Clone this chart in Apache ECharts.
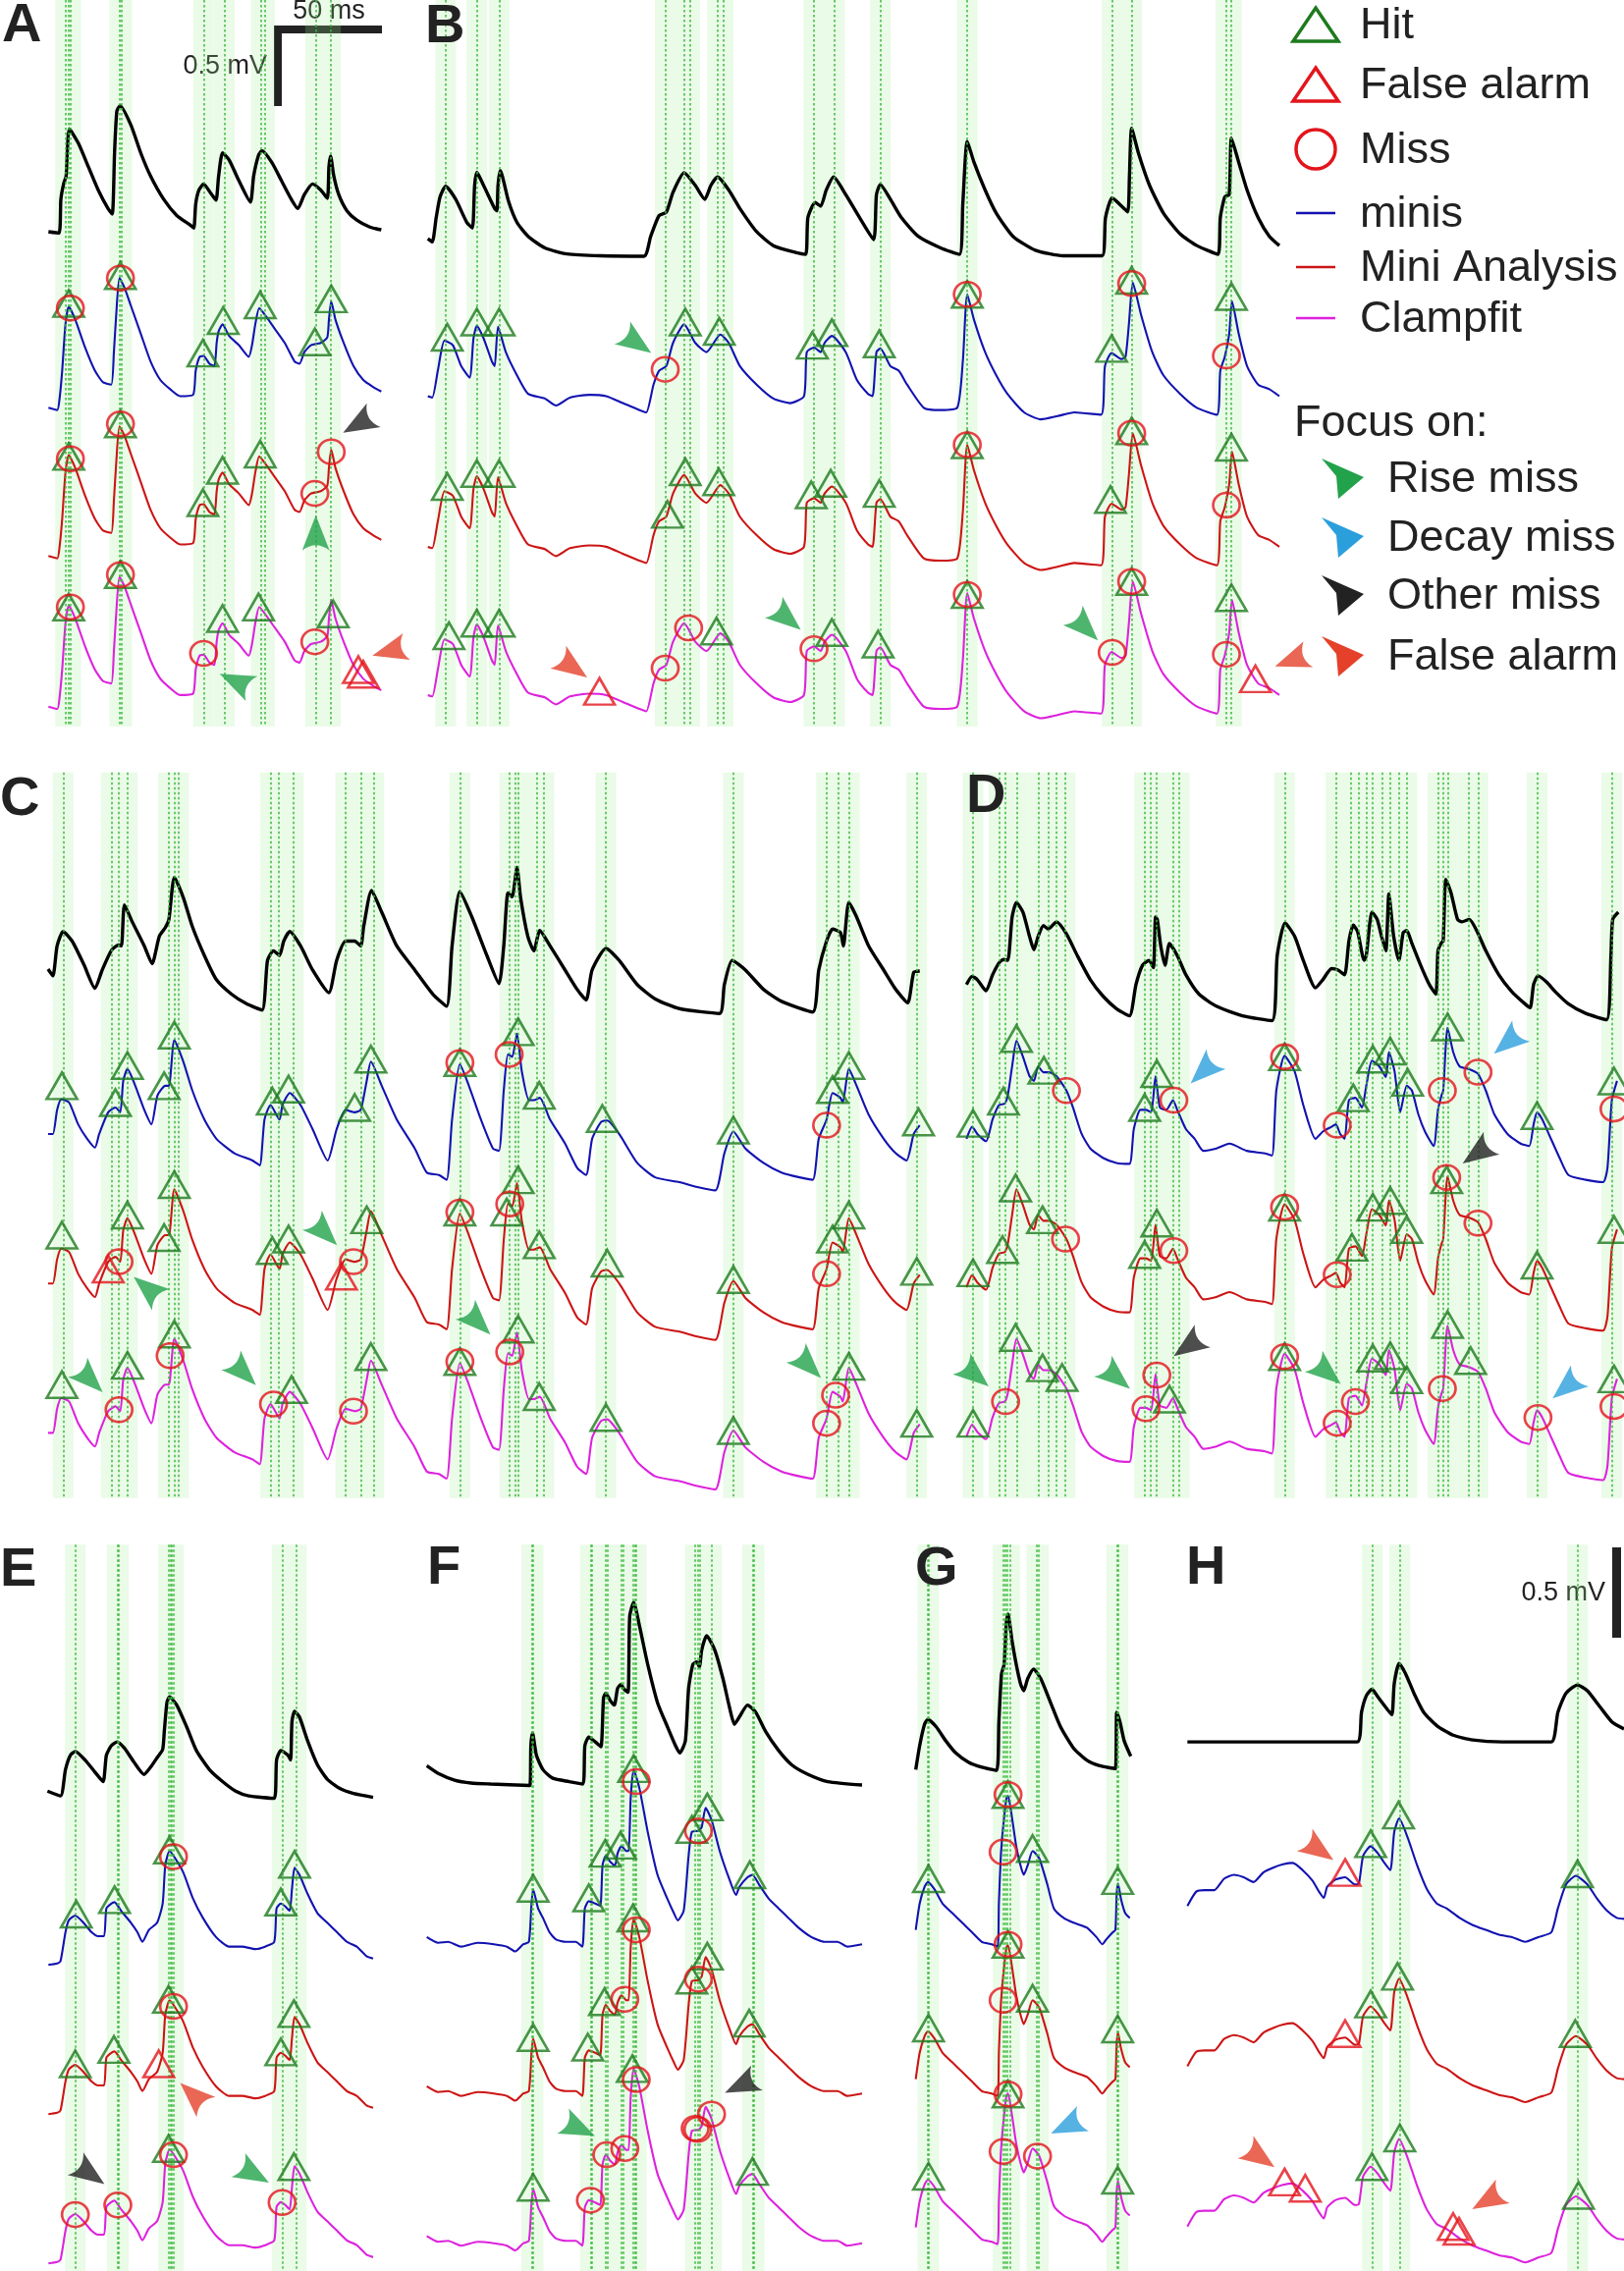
<!DOCTYPE html>
<html><head><meta charset="utf-8">
<script src="https://cdn.jsdelivr.net/npm/echarts@6/dist/echarts.min.js"></script>
<style>html,body{margin:0;padding:0;background:#fff}#c{width:1654px;height:2313px}</style>
</head><body><div id="c"></div>
<script>
// ===== DATA (time units / amplitude units as read per panel; amplitude axis points downward) =====
const A_events=[200,208,216,366,372,622,686,798,808,964,1010];
const A_black=[[148,500],[180,503],[186,430],[195,395],[202,380],[212,278],[240,310],[270,360],[300,410],[330,450],[343,462],[350,330],[357,240],[367,228],[400,270],[430,330],[460,380],[500,430],[540,465],[580,485],[592,492],[598,440],[608,410],[622,397],[645,418],[660,432],[668,380],[680,330],[700,345],[730,390],[765,436],[775,380],[790,335],[800,325],[830,350],[860,390],[890,430],[910,450],[930,420],[955,397],[980,410],[1000,428],[1005,360],[1010,337],[1020,380],[1035,420],[1060,455],[1090,475],[1130,490],[1165,496]];
const A_trace=[[148,880],[175,885],[182,860],[190,800],[200,700],[210,662],[230,690],[260,750],[290,800],[315,825],[340,830],[348,760],[355,680],[365,600],[380,620],[400,660],[430,720],[460,780],[490,820],[520,840],[550,855],[590,852],[598,800],[610,770],[622,768],[640,785],[655,790],[662,740],[668,715],[680,700],[700,725],[730,745],[760,770],[770,745],[780,700],[792,665],[810,680],[840,710],[870,740],[900,780],[915,785],[930,760],[950,745],[980,740],[1000,728],[1005,690],[1012,650],[1025,690],[1050,740],[1080,790],[1110,820],[1140,835],[1165,845]];
const A_hit=[[210,655],[368,595],[620,762],[682,692],[795,658],[962,738],[1012,645],[210,985],[368,915],[620,1085],[680,1015],[795,980],[210,1310],[368,1240],[680,1335],[790,1310],[1018,1325]];
const A_fa=[[1095,1445],[1110,1455]];
const A_miss=[[215,665],[368,600],[215,990],[368,915],[962,1065],[1012,975],[215,1310],[368,1240],[622,1410],[962,1385]];
const A_arrows=[[1095,915,'other',-150],[965,1150,'rise',90],[720,1470,'rise',155],[1190,1405,'fa',-165]];

const B_events=[72,128,168,466,500,510,560,570,733,770,852,1008,1268,1303,1472,1482];
const B_black=[[40,515],[48,522],[55,470],[62,425],[72,402],[90,430],[110,480],[120,492],[124,400],[128,372],[140,400],[160,450],[164,455],[166,400],[170,368],[185,435],[200,480],[220,510],[250,535],[290,548],[350,552],[428,553],[440,510],[455,465],[468,458],[480,415],[500,373],[520,400],[537,430],[548,400],[560,382],[580,410],[600,450],[630,500],[660,530],[700,545],[718,549],[722,470],[735,437],[745,445],[755,410],[768,382],[790,420],[815,470],[840,517],[845,420],[852,398],[870,430],[890,470],[920,510],[960,535],[994,549],[1000,440],[1008,305],[1020,350],[1040,410],[1060,460],[1090,510],[1130,540],[1180,552],[1250,552],[1256,470],[1268,427],[1285,445],[1296,457],[1299,380],[1303,277],[1315,330],[1335,400],[1360,460],[1390,505],[1420,530],[1458,549],[1462,470],[1470,425],[1478,420],[1482,298],[1495,350],[1510,410],[1530,470],[1550,510],[1568,530]];
const B_trace=[[40,855],[48,858],[58,800],[70,735],[85,745],[100,790],[115,815],[122,730],[128,703],[140,730],[155,780],[160,790],[166,705],[180,760],[200,810],[220,850],[250,860],[270,875],[295,858],[330,852],[360,855],[390,870],[420,885],[432,890],[445,830],[455,800],[468,790],[480,740],[500,700],[520,740],[540,760],[565,722],[580,740],[600,790],[630,830],[660,860],[690,870],[715,855],[720,760],[733,750],[745,760],[752,740],[765,725],[790,760],[810,820],[830,850],[838,855],[845,760],[852,752],[870,790],[885,800],[900,830],[930,880],[960,885],[990,880],[1000,780],[1008,635],[1020,690],[1040,760],[1060,810],[1080,850],[1110,890],[1140,905],[1170,898],[1200,890],[1248,895],[1255,790],[1267,762],[1285,775],[1292,770],[1298,700],[1305,610],[1320,680],[1340,760],[1360,810],[1390,850],[1420,880],[1456,895],[1462,800],[1470,770],[1478,720],[1483,650],[1495,720],[1510,790],[1530,830],[1550,840],[1568,855]];
const B_hit=[[75,728],[128,695],[168,695],[502,695],[563,715],[730,745],[765,718],[850,742],[1008,635],[1303,605],[1267,752],[1482,640],[75,1050],[128,1022],[168,1022],[470,1110],[502,1018],[562,1040],[728,1068],[763,1043],[850,1065],[1008,960],[1303,930],[1265,1078],[1482,965],[78,1372],[128,1345],[168,1345],[558,1362],[765,1365],[848,1390],[1008,1283],[1303,1255],[1482,1290]];
const B_fa=[[348,1492],[1525,1465]];
const B_miss=[[466,797],[1008,635],[1303,612],[1473,768],[1008,960],[1303,935],[1473,1090],[466,1442],[508,1355],[733,1400],[1008,1283],[1303,1255],[1268,1408],[1473,1412]];
const B_arrows=[[415,740,'rise',-35],[300,1440,'fa',-35],[685,1335,'rise',-40],[1220,1355,'rise',-45],[1590,1425,'fa',-160]];

const C_events=[105,185,197,212,280,290,297,450,463,488,575,600,622,765,848,857,862,893,905,1008,1220,1375,1395,1413,1525];
const C_black=[[80,448],[88,462],[95,400],[105,370],[120,390],[140,440],[158,488],[170,450],[185,410],[197,398],[202,400],[207,315],[220,350],[240,400],[253,437],[265,380],[275,362],[281,345],[290,258],[305,300],[320,360],[340,420],[360,470],[385,500],[410,520],[436,533],[445,430],[455,410],[465,420],[472,390],[482,370],[500,400],[520,450],[547,497],[560,430],[575,390],[590,390],[600,400],[605,360],[618,285],[635,330],[660,400],[690,450],[720,500],[743,525],[752,400],[765,287],[785,340],[810,420],[830,478],[838,400],[845,290],[852,298],[860,237],[866,300],[878,380],[888,410],[898,368],[915,400],[940,450],[960,490],[975,512],[985,450],[1008,405],[1030,430],[1060,480],[1090,510],[1130,530],[1197,540],[1205,480],[1218,430],[1240,450],[1270,490],[1300,515],[1352,537],[1362,450],[1375,390],[1385,365],[1398,372],[1403,400],[1412,310],[1425,340],[1445,400],[1470,450],[1490,490],[1510,518],[1520,455],[1530,452]];
const C_trace=[[80,790],[88,790],[95,740],[102,718],[115,725],[130,770],[145,800],[158,818],[165,790],[180,745],[192,735],[200,745],[205,680],[212,655],[225,690],[240,740],[252,770],[262,710],[275,690],[281,690],[290,595],[305,640],[320,700],[340,760],[360,800],[390,830],[420,845],[432,855],[440,760],[450,730],[465,760],[470,730],[482,705],[500,730],[520,780],[545,845],[560,780],[575,740],[590,745],[600,740],[610,680],[617,640],[635,690],[660,760],[690,820],[710,870],[730,875],[743,885],[752,760],[765,645],[780,690],[800,760],[820,820],[830,825],[838,700],[845,625],[852,630],[860,582],[868,660],[880,720],[888,720],[898,715],[915,760],[940,810],[960,860],[975,875],[985,800],[1000,765],[1010,762],[1030,790],[1060,850],[1090,880],[1130,890],[1160,900],[1190,907],[1205,830],[1220,785],[1240,820],[1270,850],[1300,870],[1330,880],[1352,885],[1362,800],[1375,760],[1385,705],[1398,715],[1402,725],[1412,655],[1425,690],[1445,750],[1470,800],[1490,830],[1508,845],[1520,790],[1530,772]];
const C_hit=[[103,690],[192,725],[212,648],[273,690],[290,585],[453,722],[480,697],[590,735],[617,635],[765,642],[862,578],[897,710],[1002,758],[1220,782],[1385,698],[1412,648],[1528,765],[103,1000],[212,958],[273,1005],[290,895],[453,1032],[480,1008],[610,968],[765,952],[843,952],[862,885],[897,1020],[1010,1058],[1220,1092],[1385,1008],[1412,958],[1525,1075],[103,1310],[212,1270],[290,1205],[485,1320],[617,1252],[765,1262],[862,1195],[897,1335],[1008,1378],[1220,1405],[1412,1272],[1525,1390]];
const C_fa=[[180,1070],[568,1085]];
const C_miss=[[765,642],[847,625],[1375,772],[198,1055],[588,1055],[765,952],[848,935],[1375,1080],[198,1362],[283,1250],[455,1350],[588,1365],[765,1262],[848,1242],[1390,1332],[1375,1390]];
const C_arrows=[[245,1110,'rise',140],[540,995,'rise',-45],[150,1300,'rise',-45],[405,1285,'rise',-45],[795,1180,'rise',-45],[1345,1270,'rise',-45]];

const D_events=[70,130,145,172,220,243,262,282,465,478,492,530,545,787,905,940,958,975,990,1012,1030,1050,1068,1140,1152,1162,1210,1232,1368,1540];
const D_black=[[55,480],[68,463],[80,470],[100,493],[115,460],[130,435],[140,428],[150,430],[160,340],[170,310],[185,330],[200,380],[210,408],[220,380],[232,358],[243,365],[262,350],[285,375],[310,420],[340,470],[370,505],[400,530],[430,545],[445,480],[460,440],[475,430],[485,445],[490,340],[494,345],[502,400],[512,440],[522,395],[540,420],[560,460],[590,500],[630,525],[690,545],[758,555],[770,420],[788,352],[810,380],[830,430],[858,487],[875,470],[895,447],[910,450],[925,460],[935,390],[945,357],[955,370],[970,430],[975,420],[988,330],[1000,345],[1010,380],[1020,410],[1027,292],[1038,380],[1050,430],[1060,372],[1068,368],[1080,395],[1100,440],[1120,480],[1135,500],[1140,410],[1148,393],[1152,390],[1158,262],[1170,290],[1185,345],[1195,350],[1212,345],[1230,370],[1250,410],[1280,460],[1310,495],[1340,520],[1352,528],[1360,480],[1370,462],[1390,475],[1410,495],[1440,520],[1480,540],[1528,553],[1538,420],[1542,345],[1555,330]];
const D_trace=[[55,800],[68,775],[80,790],[100,805],[115,760],[130,730],[143,727],[150,710],[160,650],[170,597],[185,630],[200,670],[210,680],[220,650],[232,662],[245,662],[262,670],[285,700],[300,735],[320,790],[340,820],[370,840],[400,850],[430,852],[440,780],[455,740],[468,740],[480,745],[490,670],[500,735],[515,740],[530,720],[540,740],[560,780],[580,800],[600,825],[630,820],[660,810],[700,825],[740,830],[758,835],[768,700],[787,628],[810,660],[830,730],[858,800],[875,785],[895,775],[905,770],[915,790],[925,800],[935,720],[950,715],[965,735],[975,690],[988,638],[1005,650],[1020,672],[1027,620],[1040,660],[1053,745],[1068,690],[1080,700],[1095,750],[1110,785],[1130,815],[1140,740],[1148,710],[1152,700],[1162,570],[1175,620],[1190,650],[1210,655],[1232,665],[1250,700],[1270,750],[1300,790],[1330,810],[1350,815],[1360,770],[1368,745],[1380,760],[1395,790],[1420,840],[1440,875],[1480,885],[1520,890],[1530,860],[1540,720],[1552,680]];
const D_hit=[[70,768],[140,722],[170,592],[233,658],[465,735],[493,665],[787,630],[945,715],[990,635],[1030,618],[1070,683],[1162,568],[1368,752],[1545,680],[70,1078],[138,1030],[168,902],[230,968],[465,1040],[493,975],[787,942],[942,1025],[990,942],[1030,928],[1068,988],[1160,885],[1368,1062],[1545,988],[70,1390],[168,1212],[230,1275],[275,1295],[522,1340],[787,1252],[990,1255],[1030,1250],[1068,1300],[1162,1185],[1215,1260],[1545,1298]];
const D_fa=[];
const D_miss=[[285,700],[532,720],[787,630],[908,772],[1150,700],[1232,662],[1545,738],[283,1008],[532,1032],[787,942],[908,1082],[1160,880],[1232,975],[145,1345],[468,1360],[493,1290],[787,1252],[908,1390],[950,1345],[1150,1318],[1370,1378],[1545,1355]];
const D_arrows=[[600,660,'decay',-136],[1300,600,'decay',-140],[1230,830,'other',-145],[75,1290,'rise',-40],[400,1295,'rise',-40],[565,1230,'other',-145],[885,1285,'rise',-40],[1435,1315,'decay',-140]];

const E_events=[230,358,362,515,520,525,530,862,905];
const E_black=[[145,565],[185,575],[200,520],[215,490],[230,482],[260,500],[290,525],[315,545],[325,490],[340,470],[358,462],[380,475],[410,505],[440,530],[460,515],[480,495],[497,478],[502,440],[510,380],[518,368],[540,385],[570,430],[600,480],[640,520],[680,545],[720,565],[760,575],[838,580],[845,500],[858,480],[880,490],[888,500],[892,420],[900,398],[915,410],[940,460],[970,510],[1000,540],[1040,560],[1080,570],[1140,578]];
const E_trace=[[148,928],[175,925],[185,920],[200,860],[210,835],[230,825],[255,840],[280,860],[300,868],[318,868],[325,810],[340,800],[350,797],[370,815],[400,840],[420,860],[435,880],[455,855],[480,840],[497,800],[505,720],[518,690],[535,705],[560,735],[590,790],[620,830],[660,870],[700,890],[740,890],[780,895],[810,890],[838,880],[845,810],[858,800],[870,805],[885,815],[892,770],[900,725],[915,740],[940,780],[970,820],[1000,840],[1030,860],[1060,880],[1090,890],[1120,910],[1140,915]];
const E_hit=[[233,822],[350,792],[518,688],[858,797],[900,718],[230,1135],[348,1105],[515,1000],[858,1110],[898,1030],[515,1312],[898,1350]];
const E_fa=[[485,1135]];
const E_miss=[[530,702],[530,1015],[230,1450],[360,1430],[530,1325],[862,1425]];
const E_arrows=[[590,1200,'fa',137],[275,1365,'other',-35],[775,1365,'rise',-30]];

const F_events=[385,390,565,570,612,618,660,665,695,700,705,885,892,898,935,1060,1065];
const F_black=[[65,512],[100,528],[150,542],[200,548],[260,550],[380,553],[383,470],[388,443],[400,490],[420,520],[450,538],[500,545],[542,550],[548,470],[560,452],[580,462],[597,472],[605,370],[612,360],[625,375],[638,385],[648,350],[658,342],[668,352],[680,358],[685,200],[697,170],[715,220],[740,300],[770,380],[800,430],[825,470],[838,485],[855,460],[865,350],[878,300],[890,295],[898,305],[905,270],[920,240],[945,270],[970,330],[990,390],[1005,425],[1020,410],[1045,385],[1070,400],[1100,440],[1140,480],[1180,510],[1230,530],[1290,545],[1395,552]];
const F_trace=[[65,870],[100,882],[130,880],[170,890],[220,882],[270,885],[310,890],[335,900],[360,885],[377,880],[385,800],[390,770],[405,810],[420,830],[440,860],[460,875],[490,880],[520,880],[540,890],[548,810],[560,795],[580,800],[595,805],[602,720],[612,700],[625,712],[640,720],[648,695],[660,680],[675,690],[682,690],[688,580],[697,520],[715,560],[740,650],[770,740],[800,790],[820,820],[832,835],[850,815],[865,700],[875,650],[895,648],[905,640],[917,600],[935,625],[960,690],[990,750],[1010,782],[1020,765],[1045,745],[1060,740],[1080,760],[1110,790],[1140,810],[1170,830],[1200,850],[1240,870],[1280,880],[1320,880],[1350,890],[1395,885]];
const F_hit=[[390,768],[560,788],[610,695],[657,678],[697,518],[875,645],[922,598],[1052,740],[390,1080],[557,1100],[608,1005],[695,830],[875,960],[922,910],[1050,1050],[390,1393],[693,1145],[1060,1360]];
const F_fa=[];
const F_miss=[[705,545],[895,648],[670,1000],[705,855],[895,958],[565,1420],[615,1325],[670,1312],[705,1168],[885,1270],[893,1272],[935,1240]];
const F_arrows=[[530,1270,'rise',-25],[1025,1180,'other',-155]];

const G_events=[135,138,365,372,378,385,468,473,712,716];
const G_black=[[98,520],[110,470],[125,425],[135,415],[160,430],[190,460],[220,485],[260,505],[300,515],[345,522],[352,420],[360,320],[368,300],[375,210],[380,195],[392,250],[405,300],[418,340],[428,355],[440,330],[458,310],[480,330],[510,380],[540,430],[580,475],[620,500],[660,512],[708,518],[712,400],[722,420],[735,460],[755,492]];
const G_trace=[[98,855],[110,800],[125,765],[135,755],[155,770],[180,800],[210,820],[240,840],[270,860],[300,880],[330,885],[348,890],[352,800],[358,700],[365,640],[375,580],[380,575],[392,620],[405,680],[418,720],[428,740],[440,720],[455,690],[475,705],[500,760],[520,810],[550,830],[580,840],[620,850],[650,870],[668,885],[680,875],[700,860],[708,855],[712,780],[716,758],[725,790],[738,820],[752,830]];
const G_hit=[[380,572],[455,685],[137,748],[715,752],[380,885],[455,998],[137,1060],[715,1062],[380,1198],[137,1370],[715,1378]];
const G_fa=[];
const G_miss=[[380,572],[365,692],[380,885],[365,1002],[380,1198],[365,1318],[470,1328]];
const G_arrows=[[560,1265,'decay',-155]];

const H_events=[653,737,1280];
const H_black=[[88,462],[300,462],[607,462],[620,400],[635,365],[652,352],[670,368],[700,395],[713,405],[720,340],[735,298],[755,320],[780,360],[810,400],[850,428],[900,448],[960,458],[1050,462],[1200,462],[1220,400],[1245,360],[1280,343],[1310,355],[1350,390],[1385,420],[1422,435]];
const H_trace=[[88,805],[115,775],[140,772],[170,772],[200,748],[230,740],[260,745],[290,755],[320,735],[350,725],[380,718],[410,715],[440,730],[470,752],[490,775],[505,788],[515,765],[540,750],[570,745],[600,760],[612,758],[625,700],[648,680],[670,695],[690,715],[708,730],[720,650],[735,622],[760,660],[790,720],[820,770],[850,800],[880,810],[920,830],[960,845],[1000,855],[1040,865],[1080,870],[1120,880],[1160,870],[1200,860],[1220,810],[1245,760],[1275,742],[1310,760],[1340,790],[1370,815],[1400,830],[1422,832]];
const H_hit=[[648,675],[733,615],[1280,738],[648,1010],[730,952],[1273,1072],[652,1350],[737,1290],[1283,1410]];
const H_fa=[[570,735],[570,1072],[385,1382],[448,1395],[900,1475],[918,1485]];
const H_miss=[];
const H_arrows=[[490,688,'fa',-35],[310,1330,'fa',-35],[1005,1420,'fa',-150]];

const LEGEND_MARKS=['Hit','False alarm','Miss'];
const LEGEND_TRACES=['minis','Mini Analysis','Clampfit'];
const LEGEND_FOCUS=['Rise miss','Decay miss','Other miss','False alarm'];

// ===== LAYOUT / STYLE =====
const PANELS=['A','B','C','D','E','F','G','H'];
const DATA={
 A:{events:A_events,black:A_black,trace:A_trace,hit:A_hit,fa:A_fa,miss:A_miss,arrows:A_arrows},
 B:{events:B_events,black:B_black,trace:B_trace,hit:B_hit,fa:B_fa,miss:B_miss,arrows:B_arrows},
 C:{events:C_events,black:C_black,trace:C_trace,hit:C_hit,fa:C_fa,miss:C_miss,arrows:C_arrows},
 D:{events:D_events,black:D_black,trace:D_trace,hit:D_hit,fa:D_fa,miss:D_miss,arrows:D_arrows},
 E:{events:E_events,black:E_black,trace:E_trace,hit:E_hit,fa:E_fa,miss:E_miss,arrows:E_arrows},
 F:{events:F_events,black:F_black,trace:F_trace,hit:F_hit,fa:F_fa,miss:F_miss,arrows:F_arrows},
 G:{events:G_events,black:G_black,trace:G_trace,hit:G_hit,fa:G_fa,miss:G_miss,arrows:G_arrows},
 H:{events:H_events,black:H_black,trace:H_trace,hit:H_hit,fa:H_fa,miss:H_miss,arrows:H_arrows}
};
const LAYOUT={
 A:{rect:[0,0,420,740],dims:[1260,1568],band:[0,1568],rows:[0,320,645],letter:[2,25]},
 B:{rect:[413,0,890,740],dims:[1568,1568],band:[0,1568],rows:[0,325,645],letter:[433,26]},
 C:{rect:[0,767,960,770],dims:[1568,1568],band:[40,1545],rows:[0,310,620],letter:[0,813]},
 D:{rect:[960,767,694,770],dims:[1568,1568],band:[40,1545],rows:[0,308,618],letter:[984,810]},
 E:{rect:[0,1549,413,764],dims:[1239,1568],band:[50,1568],rows:[0,312,624],letter:[0,1598]},
 F:{rect:[413,1549,490,764],dims:[1470,1568],band:[50,1568],rows:[0,312,625],letter:[435,1596]},
 G:{rect:[900,1549,280,764],dims:[840,1568],band:[50,1568],rows:[0,312,622],letter:[932,1597]},
 H:{rect:[1180,1549,474,764],dims:[1422,1568],band:[50,1568],rows:[0,335,670],letter:[1208,1596]}
};
const BAND_HALF_PX=10.5;
const TRACE_COLORS=['#1212b0','#cc1515','#dd22dd'];
const GREEN='#1d7a1d', RED='#e3141b';
const ARROW_COLORS={rise:'#22a24a',decay:'#2b9fdc',other:'#222222',fa:'#e5412a'};
const ARROW_PATH='path://M36,14 L0,0 Q11,14 0,28 Z';
const FONT='"Liberation Sans", Arial, Helvetica, sans-serif';

const grids=[],xAxes=[],yAxes=[],series=[],graphics=[];
PANELS.forEach((p,i)=>{
  const L=LAYOUT[p],D=DATA[p];
  grids.push({left:L.rect[0],top:L.rect[1],width:L.rect[2],height:L.rect[3],containLabel:false,show:false});
  xAxes.push({type:'value',gridIndex:i,min:0,max:L.dims[0],show:false});
  yAxes.push({type:'value',gridIndex:i,min:0,max:L.dims[1],inverse:true,show:false});
  const hw=BAND_HALF_PX*L.dims[0]/L.rect[2];
  const ev=D.events.slice().sort((a,b)=>a-b);
  const merged=[];
  ev.forEach(t=>{const a=t-hw,b=t+hw;if(merged.length&&a<=merged[merged.length-1][1]){merged[merged.length-1][1]=b;}else merged.push([a,b]);});
  series.push({type:'line',xAxisIndex:i,yAxisIndex:i,data:[],silent:true,z:1,
    markArea:{silent:true,itemStyle:{color:'rgba(160,236,150,0.22)'},label:{show:false},
      data:merged.map(m=>[{xAxis:m[0],yAxis:L.band[0]},{xAxis:m[1],yAxis:L.band[1]}])},
    markLine:{silent:true,symbol:['none','none'],label:{show:false},animation:false,
      lineStyle:{color:'#3dbb3d',type:[2.5,2.5],width:1.5},
      data:D.events.map(t=>[{coord:[t,L.band[0]]},{coord:[t,L.band[1]]}])}
  });
  series.push({type:'line',xAxisIndex:i,yAxisIndex:i,data:D.black,symbol:'none',smooth:0.2,clip:false,silent:true,z:3,
    lineStyle:{color:'#000',width:3.4}});
  L.rows.forEach((off,k)=>{
    series.push({type:'line',xAxisIndex:i,yAxisIndex:i,data:D.trace.map(d=>[d[0],d[1]+off]),symbol:'none',smooth:0.2,clip:false,silent:true,z:3,
      lineStyle:{color:TRACE_COLORS[k],width:2.1}});
  });
  series.push({type:'scatter',xAxisIndex:i,yAxisIndex:i,data:D.hit,symbol:'triangle',symbolSize:[31,27],clip:false,silent:true,z:5,
    itemStyle:{color:'rgba(0,0,0,0)',borderColor:GREEN,borderWidth:2.6}});
  series.push({type:'scatter',xAxisIndex:i,yAxisIndex:i,data:D.fa,symbol:'triangle',symbolSize:[31,27],clip:false,silent:true,z:5,
    itemStyle:{color:'rgba(0,0,0,0)',borderColor:RED,borderWidth:2.6}});
  series.push({type:'scatter',xAxisIndex:i,yAxisIndex:i,data:D.miss,symbol:'circle',symbolSize:[27,25],clip:false,silent:true,z:6,
    itemStyle:{color:'rgba(0,0,0,0)',borderColor:RED,borderWidth:2.6}});
  series.push({type:'scatter',xAxisIndex:i,yAxisIndex:i,clip:false,silent:true,z:7,symbol:ARROW_PATH,symbolSize:[36,28],
    data:D.arrows.map(a=>({value:[a[0],a[1]],symbolRotate:a[3],itemStyle:{color:ARROW_COLORS[a[2]]}}))});
  graphics.push({type:'text',x:L.letter[0],y:L.letter[1]+2,silent:true,z:10,
    style:{text:p,font:'bold 56px '+FONT,fill:'#222',textAlign:'left',textVerticalAlign:'middle'}});
});

// scale bars (annotation)
graphics.push({type:'rect',shape:{x:279,y:26,width:110,height:8},style:{fill:'#222'},silent:true});
graphics.push({type:'rect',shape:{x:279,y:26,width:8,height:82},style:{fill:'#222'},silent:true});
graphics.push({type:'text',x:335,y:12,style:{text:'50 ms',font:'27px '+FONT,fill:'#222',textAlign:'center',textVerticalAlign:'middle'},silent:true});
graphics.push({type:'text',x:272,y:68,style:{text:'0.5 mV',font:'27px '+FONT,fill:'#222',textAlign:'right',textVerticalAlign:'middle'},silent:true});
graphics.push({type:'rect',shape:{x:1642,y:1576,width:9,height:92},style:{fill:'#222'},silent:true});
graphics.push({type:'text',x:1635,y:1623,style:{text:'0.5 mV',font:'27px '+FONT,fill:'#222',textAlign:'right',textVerticalAlign:'middle'},silent:true});

// legend
const LX=1340, TX=1385;
const legY=[25,86,152];
const tri=(cx,cy,w,h)=>[[cx,cy-h/2],[cx+w/2,cy+h/2],[cx-w/2,cy+h/2]];
graphics.push({type:'polygon',shape:{points:tri(LX,legY[0],46,34)},style:{fill:'none',stroke:GREEN,lineWidth:3.5},silent:true});
graphics.push({type:'polygon',shape:{points:tri(LX,legY[1],46,34)},style:{fill:'none',stroke:RED,lineWidth:3.5},silent:true});
graphics.push({type:'circle',shape:{cx:LX,cy:legY[2],r:20},style:{fill:'none',stroke:RED,lineWidth:3.5},silent:true});
LEGEND_MARKS.forEach((t,k)=>graphics.push({type:'text',x:TX,y:legY[k]+2,style:{text:t,font:'45px '+FONT,fill:'#222',textAlign:'left',textVerticalAlign:'middle'},silent:true}));
const trY=[217,272,324];
LEGEND_TRACES.forEach((t,k)=>{
  graphics.push({type:'line',shape:{x1:1320,y1:trY[k],x2:1360,y2:trY[k]},style:{stroke:TRACE_COLORS[k],lineWidth:2.5},silent:true});
  graphics.push({type:'text',x:TX,y:trY[k]+2,style:{text:t,font:'45px '+FONT,fill:'#222',textAlign:'left',textVerticalAlign:'middle'},silent:true});
});
graphics.push({type:'text',x:1318,y:432,style:{text:'Focus on:',font:'45px '+FONT,fill:'#222',textAlign:'left',textVerticalAlign:'middle'},silent:true});
const fY=[487,547,606,668], fK=['rise','decay','other','fa'];
LEGEND_FOCUS.forEach((t,k)=>{
  const cx=1366,cy=fY[k];
  graphics.push({type:'polygon',shape:{points:[[cx+23,cy-1],[cx-20,cy-20],[cx-5,cy-2],[cx-3,cy+21]]},style:{fill:ARROW_COLORS[fK[k]]},silent:true});
  graphics.push({type:'text',x:1413,y:cy+2,style:{text:t,font:'45px '+FONT,fill:'#222',textAlign:'left',textVerticalAlign:'middle'},silent:true});
});

const chart=echarts.init(document.getElementById('c'),null,{renderer:'canvas',width:1654,height:2313});
chart.setOption({animation:false,backgroundColor:'#fff',grid:grids,xAxis:xAxes,yAxis:yAxes,series:series,graphic:{elements:graphics}});
</script></body></html>
